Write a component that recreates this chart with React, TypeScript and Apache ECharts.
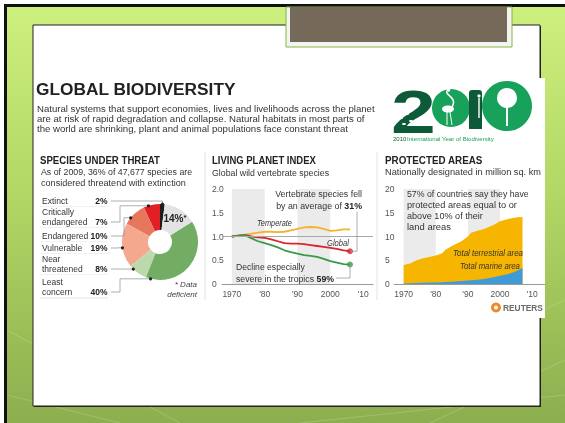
import React, { useEffect, useRef } from "react";
import * as echarts from "echarts";

// ---------------- data ----------------
const threatLabels = ["Extinct", "Critically endangered", "Endangered", "Vulnerable", "Near threatened", "Least concern", "Data deficient"];
const threatLabelLines = [["Extinct"], ["Critically", "endangered"], ["Endangered"], ["Vulnerable"], ["Near", "threatened"], ["Least", "concern"]];
const threatShares = [2, 7, 10, 19, 8, 40, 14];

const lpiYears = [1970, 1972, 1974, 1976, 1978, 1980, 1982, 1984, 1986, 1988, 1990, 1992, 1994, 1996, 1998, 2000, 2002, 2004, 2006];
const lpiTemperate = [1.0, 1.02, 1.04, 1.06, 1.08, 1.1, 1.1, 1.09, 1.1, 1.13, 1.16, 1.19, 1.2, 1.19, 1.16, 1.12, 1.13, 1.15, 1.15];
const lpiGlobal = [1.0, 1.02, 1.03, 1.0, 0.98, 0.97, 0.94, 0.9, 0.86, 0.85, 0.85, 0.84, 0.82, 0.8, 0.78, 0.76, 0.74, 0.71, 0.69];
const lpiTropical = [1.0, 1.02, 1.03, 0.96, 0.9, 0.86, 0.82, 0.77, 0.71, 0.67, 0.64, 0.61, 0.59, 0.57, 0.53, 0.48, 0.45, 0.42, 0.41];
const lpiYTicks = [0, 0.5, 1.0, 1.5, 2.0];

const paYears = [1970, 1972, 1974, 1976, 1978, 1980, 1982, 1983, 1985, 1988, 1990, 1991, 1993, 1995, 1998, 2000, 2002, 2004, 2006, 2007];
const paTotal = [4.0, 4.3, 5.0, 5.4, 5.7, 6.0, 6.5, 7.2, 8.0, 9.0, 10.0, 10.8, 11.2, 11.6, 12.4, 13.2, 13.6, 13.9, 14.1, 14.1];
const paMarine = [0.1, 0.15, 0.2, 0.25, 0.3, 0.3, 0.35, 0.4, 0.5, 0.65, 0.75, 0.8, 0.9, 1.05, 1.4, 1.75, 2.0, 2.4, 3.0, 3.4];

const decadeTicks = [1970, 1980, 1990, 2000, 2010];
const decadeLabels = ["1970", "'80", "'90", "2000", "'10"];
const shadedDecades = [[1970, 1980], [1990, 2000]];

// ---------------- styles ----------------
const FONT = "'Liberation Sans', Arial, Helvetica, sans-serif";
const threatColors = ["#1d1d1d", "#e01f26", "#e6765c", "#f4a98f", "#bcd9ad", "#72ad63", "#e3e3e3"];
const C_TEMP = "#f2b52a";
const C_GLOBAL = "#d8262c";
const C_TROP = "#3b9a48";
const C_TERR = "#f6b500";
const C_MARINE = "#3f9bd6";
const C_BAND = "#ebebeb";

// layout
const PIE = { cx: 160, cy: 242, r0: 12, r: 38 };
const LPI = { left: 222, top: 189, width: 151, height: 95, xmin: 1967, xmax: 2013, ymax: 2 };
const PA = { left: 394, top: 189, width: 151, height: 95, xmin: 1967, xmax: 2014, ymax: 20 };

let _ctx: CanvasRenderingContext2D | null = null;
function measure(text: string, size: number, weight = "normal", italic = false) {
  if (!_ctx) _ctx = document.createElement("canvas").getContext("2d");
  if (!_ctx) return text.length * size * 0.5;
  _ctx.font = `${italic ? "italic " : ""}${weight} ${size}px ${FONT}`;
  return _ctx.measureText(text).width;
}

// parts: plain string or array of [text, bold?]
function txt(x: number, y: number, parts: string | [string, boolean][], o: any = {}) {
  const size = o.size ?? 9.5;
  const weight = o.weight ?? "normal";
  const color = o.color ?? "#333";
  const segs: [string, boolean][] = typeof parts === "string" ? [[parts, false]] : parts;
  let text = "";
  let width = 0;
  const rich: any = {};
  segs.forEach(([s, b]) => {
    if (b) {
      text += `{b|${s}}`;
      rich.b = { fontFamily: FONT, fontSize: size, fontWeight: "bold", fill: o.boldColor ?? "#222" };
    } else text += s;
    width += measure(s, size, b ? "bold" : weight, !!o.italic);
  });
  const scaleX = o.w ? o.w / width : 1;
  return {
    type: "text", x, y, z: 50, silent: true, scaleX,
    style: {
      text, fontFamily: FONT, fontSize: size, fontWeight: weight,
      fontStyle: o.italic ? "italic" : "normal", fill: color,
      align: o.align ?? "left", verticalAlign: "middle", rich,
    },
  };
}
function line(points: number[][], color = "#9a9a9a", w = 0.8, z = 50) {
  return { type: "polyline", z, silent: true, shape: { points }, style: { stroke: color, lineWidth: w, fill: null } };
}

function buildOption() {
  const total = threatShares.reduce((a, b) => a + b, 0);
  const startAngle = 90 - (threatShares[0] / total) * 360;
  const last = lpiYears.length - 1;
  const g: any[] = [];

  // ---- slide background ----
  g.push({ type: "rect", z: 0, shape: { x: 0, y: 0, width: 565, height: 423 }, style: { fill: "#ffffff" } });
  g.push({ type: "rect", z: 0, shape: { x: 4, y: 4, width: 561, height: 419 }, style: { fill: "#111" } });
  g.push({
    type: "rect", z: 0, shape: { x: 7, y: 7, width: 558, height: 416 },
    style: { fill: new echarts.graphic.LinearGradient(0, 0, 0, 1, [
      { offset: 0, color: "#cdef7e" }, { offset: 0.45, color: "#b2d765" }, { offset: 1, color: "#8dae4f" },
    ]) },
  });
  [[[7, 330], [180, 423]], [[430, 423], [565, 360]], [[300, 423], [565, 395]], [[7, 395], [120, 423]], [[500, 330], [565, 300]]].forEach((p) =>
    g.push({ type: "polyline", z: 0, silent: true, shape: { points: p }, style: { stroke: "rgba(255,255,255,0.18)", lineWidth: 1, fill: null } })
  );
  // white content box with dark edge
  g.push({ type: "rect", z: 0, shape: { x: 34, y: 26, width: 507, height: 381 }, style: { fill: "#222" } });
  g.push({ type: "rect", z: 0, shape: { x: 33, y: 25, width: 507, height: 381 }, style: { fill: "#fff", stroke: "#222", lineWidth: 1 } });
  // brown tab at top
  g.push({ type: "rect", z: 0, shape: { x: 286, y: 7, width: 226, height: 40 }, style: { fill: "#f3f3f1", stroke: "#86b63e", lineWidth: 1 } });
  g.push({ type: "rect", z: 0, shape: { x: 290, y: 7, width: 217, height: 35 }, style: { fill: "#756959" } });
  // infographic white panel (runs slightly past the box edge)
  g.push({ type: "rect", z: 0, shape: { x: 36, y: 78, width: 509, height: 240 }, style: { fill: "#fff" } });

  // ---- title & intro ----
  g.push(txt(36, 89, "GLOBAL BIODIVERSITY", { size: 17, weight: "bold", color: "#222", w: 200 }));
  const intro = [
    "Natural systems that support economies, lives and livelihoods across the planet",
    "are at risk of rapid degradation and collapse. Natural habitats in most parts of",
    "the world are shrinking, plant and animal populations face constant threat",
  ];
  intro.forEach((s, i) => g.push(txt(37, 108 + i * 10.2, s, { size: 9.6, color: "#333" })));

  // ---- section headers ----
  g.push(txt(40, 160, "SPECIES UNDER THREAT", { size: 10.5, weight: "bold", color: "#222", w: 120 }));
  g.push(txt(41, 172, "As of 2009, 36% of 47,677 species are", { size: 9.2, w: 151 }));
  g.push(txt(41, 182.5, "considered threatend with extinction", { size: 9.2, w: 145 }));
  g.push(txt(212, 160, "LIVING PLANET INDEX", { size: 10.5, weight: "bold", color: "#222", w: 104 }));
  g.push(txt(212, 172.5, "Global wild vertebrate species", { size: 9.2, w: 117 }));
  g.push(txt(385, 160, "PROTECTED AREAS", { size: 10.5, weight: "bold", color: "#222", w: 98 }));
  g.push(txt(385, 172.5, "Nationally designated in million sq. km", { size: 9.2, w: 156 }));
  // dividers
  g.push(line([[205, 152], [205, 300]], "#e2e2e2", 1));
  g.push(line([[377, 152], [377, 300]], "#e2e2e2", 1));

  // ---- species legend rows + leader lines ----
  const rowY = [201, 222, 236, 248, 269, 292];
  const anchorFrac = [0.5, 0.7, 0.7, 0.55, 0.2, 0.05];
  const elbowX = [0, 120, 124, 118, 118, 120];
  let cum = 0;
  threatLabelLines.forEach((lines, i) => {
    const y = rowY[i];
    lines.forEach((s, k) => g.push(txt(42, y - (lines.length - 1 - k) * 10.4, s, { size: 8.5, color: "#333" })));
    g.push(txt(107.5, y, [[`${threatShares[i]}%`, true]], { size: 8.5, color: "#222", align: "right" }));
    const a0 = startAngle + (cum / total) * 360;
    const a = ((a0 + anchorFrac[i] * (threatShares[i] / total) * 360) * Math.PI) / 180;
    cum += threatShares[i];
    const dx = PIE.cx + PIE.r * Math.cos(a);
    const dy = PIE.cy - PIE.r * Math.sin(a);
    const ex = i === 0 ? dx : elbowX[i];
    g.push(line([[111, y], [ex, y], [ex, dy], [dx, dy]], "#9a9a9a", 0.8));
    g.push({ type: "circle", z: 51, silent: true, shape: { cx: dx, cy: dy, r: 1.6 }, style: { fill: "#222" } });
    if (i < threatLabelLines.length - 1) g.push(line([[40, y + 5.5], [108, y + 5.5]], "#ededed", 0.8, 1));
  });
  g.push(line([[40, 298], [108, 298]], "#dcdcdc", 0.8));
  g.push(txt(197, 284, "* Data", { size: 8, italic: true, align: "right", color: "#444" }));
  g.push(txt(197, 294, "deficient", { size: 8, italic: true, align: "right", color: "#444" }));

  // ---- LPI annotations ----
  const lpX = (yr: number) => LPI.left + ((yr - LPI.xmin) / (LPI.xmax - LPI.xmin)) * LPI.width;
  const lpY = (v: number) => LPI.top + LPI.height - (v / LPI.ymax) * LPI.height;
  const rx = lpX(lpiYears[last]), ry = lpY(lpiGlobal[last]);
  const gy = lpY(lpiTropical[last]);
  g.push(txt(362, 194, "Vertebrate species fell", { size: 9.5, align: "right", w: 87 }));
  g.push(txt(362, 206, [["by an average of ", false], ["31%", true]], { size: 9.5, align: "right", w: 86 }));
  g.push(line([[rx, ry], [rx + 7, ry], [rx + 7, 212]], "#9a9a9a", 0.8));
  g.push(txt(257, 223, "Temperate", { size: 8.3, italic: true, color: "#333", w: 35 }));
  g.push(txt(327, 243, "Global", { size: 8.3, italic: true, color: "#333", w: 22 }));
  g.push(txt(236, 267, "Decline especially", { size: 9.5, w: 69 }));
  g.push(txt(236, 279, [["severe in the tropics ", false], ["59%", true]], { size: 9.5, w: 98 }));
  g.push(line([[rx, gy], [rx, 278], [336, 278]], "#9a9a9a", 0.8));

  // ---- PA annotations ----
  const paNote = ["57% of countries say they have", "protected areas equal to or", "above 10% of their", "land areas"];
  const paNoteW = [122, 110, 76, 44];
  paNote.forEach((s, i) => g.push(txt(407, 194 + i * 10.8, s, { size: 9.5, w: paNoteW[i] })));
  g.push(txt(453, 253, "Total terrestrial area", { size: 8.3, italic: true, color: "#333", w: 70 }));
  g.push(txt(460, 266, "Total marine area", { size: 8.3, italic: true, color: "#333", w: 60 }));
  // Reuters mark
  g.push({ type: "circle", z: 50, silent: true, shape: { cx: 496, cy: 307.5, r: 5 }, style: { fill: "#f08a24" } });
  g.push({ type: "circle", z: 50, silent: true, shape: { cx: 496, cy: 307.5, r: 2 }, style: { fill: "#fff" } });
  g.push(txt(503, 307.5, [["REUTERS", true]], { size: 8.5, boldColor: "#6a6a6a", w: 40 }));

  // ---- 2010 logo ----
  const dark = "#0d5a38", green = "#18a15b";
  g.push({ type: "text", z: 50, silent: true, x: 391, y: 111, scaleX: 1.3,
    style: { text: "2", fontFamily: FONT, fontSize: 62, fontWeight: "bold", fill: dark, align: "left", verticalAlign: "middle" } });
  [[401, 118], [407, 114], [404, 124], [411, 121]].forEach(([x, y]) =>
    g.push({ type: "ellipse", z: 51, silent: true, shape: { cx: x, cy: y, rx: 2, ry: 1 }, style: { fill: "#fff" } }));
  g.push({ type: "circle", z: 50, silent: true, shape: { cx: 451, cy: 108, r: 19 }, style: { fill: green } });
  g.push({ type: "ellipse", z: 51, silent: true, shape: { cx: 448, cy: 109, rx: 6, ry: 3.5 }, style: { fill: "#fff" } });
  g.push({ type: "bezierCurve", z: 51, silent: true, shape: { x1: 452, y1: 107, cpx1: 458, cpy1: 97, cpx2: 444, cpy2: 95, x2: 447, y2: 91 }, style: { stroke: "#fff", lineWidth: 1.6, fill: null } });
  g.push({ type: "circle", z: 51, silent: true, shape: { cx: 448.5, cy: 90, r: 1.8 }, style: { fill: "#fff" } });
  g.push(line([[447, 112], [447, 125]], "#fff", 1, 51));
  g.push(line([[450, 112], [452, 125]], "#fff", 1, 51));
  g.push({ type: "rect", z: 50, silent: true, shape: { x: 469, y: 90, width: 13, height: 39, r: [3, 3, 0, 0] }, style: { fill: dark } });
  g.push({ type: "circle", z: 52, silent: true, shape: { cx: 479, cy: 96, r: 1.6 }, style: { fill: "#fff" } });
  g.push(line([[479, 98], [479, 118]], "#fff", 1.4, 52));
  g.push({ type: "circle", z: 50, silent: true, shape: { cx: 507, cy: 106, r: 25 }, style: { fill: green } });
  g.push({ type: "circle", z: 51, silent: true, shape: { cx: 507, cy: 98, r: 10 }, style: { fill: "#fff" } });
  g.push(line([[507, 100], [507, 126]], "#fff", 2, 51));
  g.push(txt(393, 139, "2010", { size: 6, color: dark }));
  g.push(txt(407, 139, "International Year of Biodiversity", { size: 6, color: green, w: 87 }));

  const yearLabel = (v: number) => {
    const i = decadeTicks.indexOf(v);
    return i >= 0 ? decadeLabels[i] : "";
  };
  const xAxisCommon = {
    type: "value", splitLine: { show: false },
    axisLine: { show: true, lineStyle: { color: "#9a9a9a", width: 1 } },
    axisTick: { show: false },
    axisLabel: { customValues: decadeTicks, formatter: yearLabel, fontFamily: FONT, fontSize: 8.5, color: "#555", margin: 5 },
  };
  const bands = shadedDecades.map(([a, b]) => [{ xAxis: a }, { xAxis: b }]);

  const lpiData = (vals: number[]) => lpiYears.map((y, i) => [y, vals[i]]);
  const lineSeries = (name: string, vals: number[], color: string, extra: any = {}) => ({
    type: "line", name, xAxisIndex: 0, yAxisIndex: 0, data: lpiData(vals), symbol: "none", smooth: false,
    lineStyle: { color, width: 1.8 }, itemStyle: { color }, z: 3, ...extra,
  });

  return {
    animation: false,
    backgroundColor: "transparent",
    graphic: { elements: g },
    grid: [
      { left: LPI.left, top: LPI.top, width: LPI.width, height: LPI.height },
      { left: PA.left, top: PA.top, width: PA.width, height: PA.height },
    ],
    xAxis: [
      { ...xAxisCommon, gridIndex: 0, min: LPI.xmin, max: LPI.xmax },
      { ...xAxisCommon, gridIndex: 1, min: PA.xmin, max: PA.xmax },
    ],
    yAxis: [
      { type: "value", gridIndex: 0, min: 0, max: 2, interval: 0.5, splitLine: { show: false }, axisLine: { show: false }, axisTick: { show: false },
        axisLabel: { fontFamily: FONT, fontSize: 8.5, color: "#555", align: "left", margin: 10,
          formatter: (v: number) => (lpiYTicks.includes(v) ? (v === 0 ? "0" : v.toFixed(1)) : "") } },
      { type: "value", gridIndex: 1, min: 0, max: 20, interval: 5, splitLine: { show: false }, axisLine: { show: false }, axisTick: { show: false },
        axisLabel: { fontFamily: FONT, fontSize: 8.5, color: "#555", align: "left", margin: 9 } },
    ],
    series: [
      {
        type: "pie", center: [PIE.cx, PIE.cy], radius: [PIE.r0, PIE.r], startAngle, clockwise: false,
        silent: true, z: 3,
        label: { show: false }, labelLine: { show: false },
        itemStyle: { borderWidth: 0 },
        data: threatLabels.map((name, i) => ({
          name, value: threatShares[i], itemStyle: { color: threatColors[i] },
          label: i === threatLabels.length - 1 ? {
            show: true, position: "inside", formatter: `{a|${threatShares[i]}%}{s|*}`,
            rich: { a: { fontFamily: FONT, fontSize: 10, fontWeight: "bold", color: "#222" }, s: { fontFamily: FONT, fontSize: 8, fontWeight: "bold", color: "#222", verticalAlign: "top" } },
          } : { show: false },
        })),
      },
      lineSeries("Temperate", lpiTemperate, C_TEMP, {
        markArea: { silent: true, itemStyle: { color: C_BAND }, data: bands },
        markLine: { silent: true, symbol: "none", label: { show: false }, lineStyle: { color: "#a8a8a8", width: 1, type: "solid" }, data: [{ yAxis: 1 }] },
      }),
      lineSeries("Global", lpiGlobal, C_GLOBAL),
      lineSeries("Tropics", lpiTropical, C_TROP),
      {
        type: "scatter", xAxisIndex: 0, yAxisIndex: 0, symbolSize: 6, z: 4, silent: true,
        data: [
          { value: [lpiYears[last], lpiGlobal[last]], itemStyle: { color: C_GLOBAL } },
          { value: [lpiYears[last], lpiTropical[last]], itemStyle: { color: C_TROP } },
        ],
      },
      {
        type: "line", name: "Total terrestrial area", xAxisIndex: 1, yAxisIndex: 1, symbol: "none",
        data: paYears.map((y, i) => [y, paTotal[i]]), lineStyle: { width: 0 }, areaStyle: { color: C_TERR, opacity: 1 }, z: 3,
        markArea: { silent: true, itemStyle: { color: C_BAND }, data: bands },
      },
      {
        type: "line", name: "Total marine area", xAxisIndex: 1, yAxisIndex: 1, symbol: "none",
        data: paYears.map((y, i) => [y, paMarine[i]]), lineStyle: { width: 0 }, areaStyle: { color: C_MARINE, opacity: 1 }, z: 4,
      },
    ],
  };
}

export default function App() {
  const ref = useRef<HTMLDivElement>(null);
  useEffect(() => {
    const chart = echarts.init(ref.current!, null, { renderer: "svg" });
    chart.setOption(buildOption() as any);
    return () => chart.dispose();
  }, []);
  return <div ref={ref} style={{ position: "fixed", left: 0, top: 0, width: 565, height: 423 }} />;
}
